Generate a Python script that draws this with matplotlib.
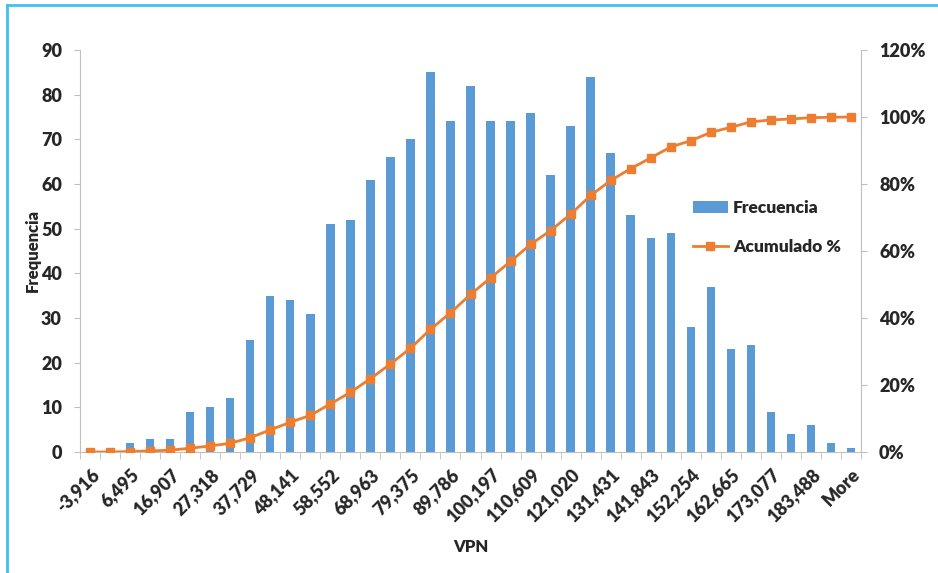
import matplotlib
matplotlib.use("Agg")
import matplotlib.pyplot as plt
from matplotlib.lines import Line2D
import numpy as np

plt.rcParams['font.family'] = ['Lato', 'DejaVu Sans']

bins = ["-3,916", "1,290", "6,495", "11,701", "16,907", "22,112", "27,318", "32,524",
        "37,729", "42,935", "48,141", "53,346", "58,552", "63,758", "68,963", "74,169",
        "79,375", "84,580", "89,786", "94,992", "100,197", "105,403", "110,609", "115,814",
        "121,020", "126,226", "131,431", "136,637", "141,843", "147,048", "152,254", "157,460",
        "162,665", "167,871", "173,077", "178,282", "183,488", "188,694", "More"]
frecuencia = [0, 0, 2, 3, 3, 9, 10, 12, 25, 35, 34, 31, 51, 52, 61, 66, 70, 85, 74, 82,
              74, 74, 76, 62, 73, 84, 67, 53, 48, 49, 28, 37, 23, 24, 9, 4, 6, 2, 1]
acumulado = [0.0, 0.0, 0.13, 0.33, 0.53, 1.13, 1.80, 2.60, 4.27, 6.60, 8.87, 10.94,
             14.34, 17.81, 21.88, 26.28, 30.95, 36.62, 41.56, 47.03, 51.97, 56.90,
             61.97, 66.11, 70.98, 76.58, 81.05, 84.59, 87.79, 91.06, 92.93, 95.40,
             96.93, 98.53, 99.13, 99.40, 99.80, 99.93, 100.0]
left_ticks = list(range(0, 91, 10))
right_ticks = list(range(0, 121, 20))

W, H = 938, 573
fig = plt.figure(figsize=(W / 100, H / 100), dpi=100)
ax = fig.add_axes([80 / W, 1 - 452 / H, (861 - 80) / W, (452 - 50) / H])

x = np.arange(len(bins))
bar_color = "#5B9BD5"
line_color = "#ED7D31"
txt_color = "#262626"
spine_color = "#BFBFBF"

ax.bar(x, frecuencia, width=0.42, color=bar_color, label="Frecuencia", zorder=2)
ax.set_xlim(-0.5, len(bins) - 0.5)
ax.set_ylim(0, 90)
ax.set_yticks(left_ticks)
ax.set_xticks(x[::2])
ax.set_xticklabels(bins[::2], rotation=45, ha='right', rotation_mode='anchor',
                   fontsize=13, fontweight='heavy', color=txt_color)
ax.set_xticks(np.arange(len(bins) + 1) - 0.5, minor=True)
ax.tick_params(axis='x', which='major', length=0, pad=10)
ax.tick_params(axis='x', which='minor', length=5, color=spine_color, direction='out')
ax.tick_params(axis='y', length=4, color=spine_color, labelsize=13, labelcolor=txt_color, pad=9)
for lbl in ax.get_yticklabels():
    lbl.set_fontweight('heavy')
for s in ['top', 'right']:
    ax.spines[s].set_visible(False)
for s in ['left', 'bottom']:
    ax.spines[s].set_color(spine_color)

ax2 = ax.twinx()
ax2.plot(x, acumulado, color=line_color, marker='s', markersize=6, linewidth=2,
         label="Acumulado %", zorder=3)
ax2.set_ylim(0, 120)
ax2.set_yticks(right_ticks)
ax2.set_yticklabels([f"{v}%" for v in right_ticks], fontsize=13, fontweight='heavy',
                    color=txt_color)
ax2.tick_params(axis='y', length=4, color=spine_color, pad=9)
for s in ['top', 'left', 'bottom']:
    ax2.spines[s].set_visible(False)
ax2.spines['right'].set_color(spine_color)

ax.set_ylabel("Frequencia", fontsize=12, fontweight='heavy', color=txt_color,
              va='center')
ax.yaxis.set_label_coords(-0.060, 0.5)
ax.set_xlabel("VPN", fontsize=12, fontweight='heavy', color=txt_color, labelpad=10)

h1, l1 = ax.get_legend_handles_labels()
h2, l2 = ax2.get_legend_handles_labels()
leg = ax2.legend(h1 + h2, l1 + l2, loc='upper left', bbox_to_anchor=(0.765, 0.665),
                 frameon=False, fontsize=12.5, handlelength=2.0, labelspacing=1.3,
                 handletextpad=0.3)
for t in leg.get_texts():
    t.set_fontweight('heavy')
    t.set_color(txt_color)

border = "#3EC1F0"
fig.add_artist(Line2D([7 / W, 7 / W], [0, 1 - 5 / H], color=border, linewidth=2,
                      transform=fig.transFigure))
fig.add_artist(Line2D([7 / W, 1], [1 - 5 / H, 1 - 5 / H], color=border, linewidth=2,
                      transform=fig.transFigure))

fig.savefig("out.png", dpi=100)
